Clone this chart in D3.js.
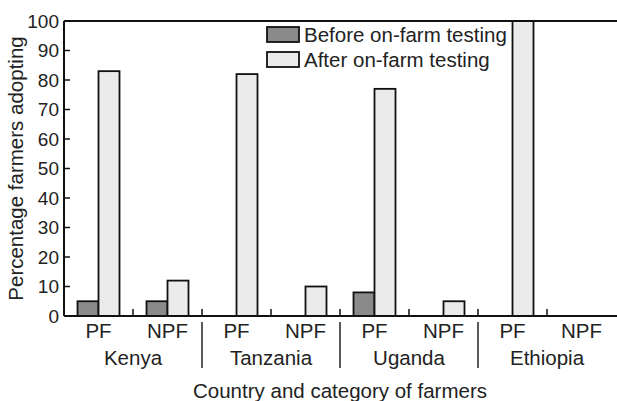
<!DOCTYPE html>
<html>
<head>
<meta charset="utf-8">
<script src="https://cdn.jsdelivr.net/npm/d3@7"></script>
<style>
  html, body { margin: 0; padding: 0; background: #fff; }
  svg { display: block; font-family: "Liberation Sans", Arial, sans-serif; }
  .tick-text { font-size: 19px; fill: #222; }
  .cat-text { font-size: 20.5px; fill: #222; }
  .axis-label { font-size: 20.5px; fill: #222; }
</style>
</head>
<body>
<div id="chart"></div>
<script>
const countries = ["Kenya", "Tanzania", "Uganda", "Ethiopia"];
const farmerTypes = ["PF", "NPF"];
const seriesNames = ["Before on-farm testing", "After on-farm testing"];
const beforeValues = [5, 5, 0, 0, 8, 0, 0, 0];
const afterValues = [83, 12, 82, 10, 77, 5, 100, 0];
const yTicks = [0, 10, 20, 30, 40, 50, 60, 70, 80, 90, 100];

const width = 617;
const height = 401;
const margin = { top: 21, right: 0, bottom: 85, left: 64 };
const plotRight = 616;

const slots = countries.flatMap((c) => farmerTypes.map((t) => ({ country: c, type: t, key: `${c}-${t}` })));
slots.forEach((s, i) => {
  s.before = beforeValues[i];
  s.after = afterValues[i];
});

const svg = d3.select("#chart").append("svg").attr("width", width).attr("height", height);

const x = d3.scaleBand().domain(slots.map((d) => d.key)).range([margin.left, plotRight]).padding(0);
const barW = 21;
const x1 = d3.scaleBand().domain(["before", "after"]).range([-barW, barW]).padding(0);
const y = d3.scaleLinear().domain([0, 100]).range([height - margin.bottom, margin.top]);

const fills = { before: "#8a8a8a", after: "#ebebeb" };

// bars
const groups = svg
  .append("g")
  .selectAll("g")
  .data(slots)
  .join("g")
  .attr("transform", (d) => `translate(${x(d.key) + x.bandwidth() / 2},0)`);

groups
  .selectAll("rect")
  .data((d) => ["before", "after"].map((k) => ({ k, v: d[k] })).filter((e) => e.v > 0))
  .join("rect")
  .attr("x", (e) => x1(e.k))
  .attr("y", (e) => y(e.v))
  .attr("width", x1.bandwidth())
  .attr("height", (e) => y(0) - y(e.v))
  .attr("fill", (e) => fills[e.k])
  .attr("stroke", "#111")
  .attr("stroke-width", 1.8);

// frame: left axis, bottom axis, top border
svg.append("line").attr("x1", margin.left).attr("x2", margin.left).attr("y1", y(100)).attr("y2", y(0))
  .attr("stroke", "#111").attr("stroke-width", 2);
svg.append("line").attr("x1", margin.left).attr("x2", width).attr("y1", y(0)).attr("y2", y(0))
  .attr("stroke", "#111").attr("stroke-width", 2);
svg.append("line").attr("x1", margin.left).attr("x2", width).attr("y1", y(100)).attr("y2", y(100))
  .attr("stroke", "#111").attr("stroke-width", 2);

// y axis ticks + labels
const yAxis = svg.append("g");
yAxis.selectAll("line").data(yTicks).join("line")
  .attr("x1", margin.left).attr("x2", margin.left + 6)
  .attr("y1", (d) => y(d)).attr("y2", (d) => y(d))
  .attr("stroke", "#111").attr("stroke-width", 1.5);
yAxis.selectAll("text").data(yTicks).join("text")
  .attr("class", "tick-text")
  .attr("x", margin.left - 5)
  .attr("y", (d) => y(d))
  .attr("dy", "0.36em")
  .attr("text-anchor", "end")
  .text((d) => d);

// x boundary ticks
const boundaries = slots.slice(1).map((d) => x(d.key));
svg.append("g").selectAll("line").data(boundaries).join("line")
  .attr("x1", (d) => d).attr("x2", (d) => d)
  .attr("y1", y(0)).attr("y2", y(0) - 7)
  .attr("stroke", "#111").attr("stroke-width", 1.5);

// category labels
svg.append("g").selectAll("text").data(slots).join("text")
  .attr("class", "cat-text")
  .attr("x", (d) => x(d.key) + x.bandwidth() / 2)
  .attr("y", 338)
  .attr("text-anchor", "middle")
  .text((d) => d.type);

// country labels
svg.append("g").selectAll("text").data(countries).join("text")
  .attr("class", "cat-text")
  .attr("x", (c) => x(`${c}-PF`) + x.bandwidth())
  .attr("y", 365)
  .attr("text-anchor", "middle")
  .text((c) => c);

// country separators
svg.append("g").selectAll("line").data(countries.slice(1)).join("line")
  .attr("x1", (c) => x(`${c}-PF`)).attr("x2", (c) => x(`${c}-PF`))
  .attr("y1", 322).attr("y2", 368)
  .attr("stroke", "#222").attr("stroke-width", 1.5);

// axis titles
svg.append("text")
  .attr("class", "axis-label")
  .attr("x", (margin.left + plotRight) / 2)
  .attr("y", 398)
  .attr("text-anchor", "middle")
  .text("Country and category of farmers");

svg.append("text")
  .attr("class", "axis-label")
  .attr("transform", `translate(23,${(y(0) + y(100)) / 2}) rotate(-90)`)
  .attr("text-anchor", "middle")
  .text("Percentage farmers adopting");

// legend
const legend = svg.append("g").attr("transform", "translate(267,27)");
const legendItems = legend.selectAll("g").data(["before", "after"]).join("g")
  .attr("transform", (d, i) => `translate(0,${i * 25})`);
legendItems.append("rect")
  .attr("width", 32).attr("height", 15)
  .attr("fill", (d) => fills[d])
  .attr("stroke", "#111").attr("stroke-width", 1.8);
legendItems.append("text")
  .attr("class", "axis-label")
  .attr("x", 37)
  .attr("y", 15)
  .text((d, i) => seriesNames[i]);
</script>
</body>
</html>
